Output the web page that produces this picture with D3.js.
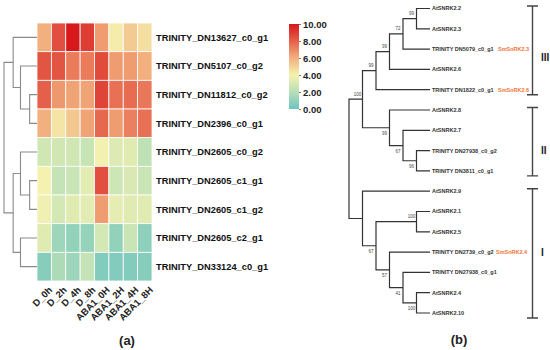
<!DOCTYPE html>
<html>
<head>
<meta charset="utf-8">
<script src="https://cdn.jsdelivr.net/npm/d3@7"></script>
<style>
  body { margin: 0; background: #fff; }
  svg { font-family: Arial, "Liberation Sans", sans-serif; }
</style>
</head>
<body>
<div id="chart"></div>
<script>
// heatmap data
const colNames = ["D_0h", "D_2h", "D_4h", "D_8h", "ABA1_0H", "ABA1_2H", "ABA1_4H", "ABA1_8H"];
const rowNames = [
  "TRINITY_DN13627_c0_g1", "TRINITY_DN5107_c0_g2", "TRINITY_DN11812_c0_g2",
  "TRINITY_DN2396_c0_g1", "TRINITY_DN2605_c0_g2", "TRINITY_DN2605_c1_g1",
  "TRINITY_DN2605_c1_g2", "TRINITY_DN2605_c2_g1", "TRINITY_DN33124_c0_g1"
];
const values = [
  [6.0, 8.5, 10.0, 9.0, 6.5, 4.2, 5.2, 4.6],
  [8.3, 8.3, 7.3, 7.3, 8.6, 6.5, 6.5, 6.0],
  [8.0, 6.6, 6.3, 6.3, 8.8, 7.6, 7.7, 7.4],
  [6.0, 4.4, 5.3, 6.3, 7.8, 6.5, 7.2, 7.6],
  [2.8, 2.8, 2.8, 2.5, 3.9, 3.2, 3.3, 2.2],
  [4.0, 2.4, 2.6, 3.4, 8.5, 2.7, 3.1, 2.6],
  [3.8, 2.9, 3.3, 3.4, 6.5, 3.5, 3.3, 3.3],
  [3.3, 1.3, 1.0, 1.1, 2.9, 1.0, 2.6, 0.9],
  [0.7, 1.7, 1.3, 2.4, 0.6, 0.6, 0.6, 0.7]
];
const legendTicks = [0, 2, 4, 6, 8, 10];
const colorStops = ["#6cc4bf", "#b8dfb7", "#f5f2b0", "#f2b07e", "#e5604a", "#d7191c"];

// row clustering (merge heights)
const rowTree = {h: 9, children: [
  {h: 6.5, children: [
    {name: rowNames[0]},
    {h: 4.5, children: [
      {name: rowNames[1]},
      {h: 2, children: [{name: rowNames[2]}, {name: rowNames[3]}]}
    ]}
  ]},
  {h: 6.5, children: [
    {h: 4.5, children: [
      {name: rowNames[4]},
      {h: 2, children: [{name: rowNames[5]}, {name: rowNames[6]}]}
    ]},
    {h: 4.5, children: [{name: rowNames[7]}, {name: rowNames[8]}]}
  ]}
]};

// phylogenetic tree data
const leafNames = [
  "AtSNRK2.2", "AtSNRK2.3", "TRINITY DN5079_c0_g1", "AtSNRK2.6", "TRINITY DN1822_c0_g1",
  "AtSNRK2.8", "AtSNRK2.7", "TRINITY DN27938_c0_g2", "TRINITY DN3811_c0_g1",
  "AtSNRK2.9", "AtSNRK2.1", "AtSNRK2.5", "TRINITY DN2739_c0_g2", "TRINITY DN27938_c0_g1",
  "AtSNRK2.4", "AtSNRK2.10"
];
const L = n => ({name: n});
const phyloTree = {children: [
  {boot: "100", pos: "above", children: [
    {boot: "99", pos: "above", children: [
      {boot: "99", pos: "above", children: [
        {boot: "72", pos: "above", children: [
          {boot: "99", pos: "above", children: [L(leafNames[0]), L(leafNames[1])]},
          L(leafNames[2])
        ]},
        L(leafNames[3])
      ]},
      L(leafNames[4])
    ]},
    {boot: "99", pos: "below", children: [
      L(leafNames[5]),
      {boot: "67", pos: "below", children: [
        L(leafNames[6]),
        {boot: "96", pos: "below", children: [L(leafNames[7]), L(leafNames[8])]}
      ]}
    ]}
  ]},
  {children: [
    L(leafNames[9]),
    {boot: "67", pos: "below", children: [
      {boot: "100", pos: "above", children: [L(leafNames[10]), L(leafNames[11])]},
      {boot: "57", pos: "below", children: [
        L(leafNames[12]),
        {boot: "41", pos: "below", children: [
          L(leafNames[13]),
          {boot: "100", pos: "below", children: [L(leafNames[14]), L(leafNames[15])]}
        ]}
      ]}
    ]}
  ]}
]};
const smNames = {"TRINITY DN5079_c0_g1": "SmSnRK2.3", "TRINITY DN1822_c0_g1": "SmSnRK2.6", "TRINITY DN2739_c0_g2": "SmSnRK2.4"};
const groups = [
  {label: "III", from: "AtSNRK2.2", to: "TRINITY DN1822_c0_g1", labelAt: 2.4},
  {label: "II", from: "AtSNRK2.8", to: "TRINITY DN3811_c0_g1", labelAt: 7.0},
  {label: "I", from: "AtSNRK2.9", to: "AtSNRK2.10", labelAt: 12.0}
];

const svg = d3.select("#chart").append("svg")
  .attr("width", 550)
  .attr("height", 350);

// ---------- (a) heatmap ----------
const x = d3.scaleBand().domain(colNames).range([37, 152]);
const y = d3.scaleBand().domain(rowNames).range([23, 281]);
const color = d3.scaleLinear().domain(legendTicks).range(colorStops);

const cells = [];
values.forEach((row, i) => row.forEach((v, j) => cells.push({r: rowNames[i], c: colNames[j], v: v})));

svg.append("g").selectAll("rect")
  .data(cells)
  .enter()
  .append("rect")
  .attr("x", d => x(d.c))
  .attr("y", d => y(d.r))
  .attr("width", x.bandwidth())
  .attr("height", y.bandwidth())
  .attr("fill", d => color(d.v))
  .attr("stroke", "#fff")
  .attr("stroke-width", 0.8);

svg.append("g").selectAll("text")
  .data(rowNames)
  .enter()
  .append("text")
  .attr("x", 156)
  .attr("y", d => y(d) + y.bandwidth() / 2)
  .attr("dy", "0.35em")
  .attr("font-size", "9.3px")
  .attr("font-weight", "bold")
  .attr("fill", "#111")
  .text(d => d);

svg.append("g").selectAll("text")
  .data(colNames)
  .enter()
  .append("text")
  .attr("transform", d => `translate(${x(d) + x.bandwidth() / 2 + 4}, 286) rotate(-45)`)
  .attr("text-anchor", "end")
  .attr("dy", "0.7em")
  .attr("font-size", "9.5px")
  .attr("font-weight", "bold")
  .attr("fill", "#222")
  .text(d => d);

// row dendrogram
const rowRoot = d3.hierarchy(rowTree);
const dx = d3.scaleLinear().domain([0, 9]).range([37, 4]);
rowRoot.eachAfter(n => {
  if (n.children) {
    n.py = d3.mean(n.children, c => c.py);
    n.px = dx(n.data.h);
  } else {
    n.py = y(n.data.name) + y.bandwidth() / 2;
    n.px = dx(0);
  }
});
const dendro = svg.append("g")
  .attr("fill", "none")
  .attr("stroke", "#8a8a8a")
  .attr("stroke-width", 1.1);
rowRoot.descendants().filter(n => n.children).forEach(n => {
  const ys = n.children.map(c => c.py);
  dendro.append("path")
    .attr("d", `M${n.children[0].px},${ys[0]}H${n.px}V${ys[1]}H${n.children[1].px}`);
});

// colour legend
const defs = svg.append("defs");
const grad = defs.append("linearGradient")
  .attr("id", "grad")
  .attr("x1", 0).attr("y1", 1).attr("x2", 0).attr("y2", 0);
legendTicks.forEach((t, i) => {
  grad.append("stop")
    .attr("offset", t / 10)
    .attr("stop-color", colorStops[i]);
});
const legendY = d3.scaleLinear().domain([0, 10]).range([109, 24]);
svg.append("rect")
  .attr("x", 289)
  .attr("y", legendY(10))
  .attr("width", 10)
  .attr("height", legendY(0) - legendY(10))
  .attr("fill", "url(#grad)");
const legendAxis = svg.append("g")
  .attr("transform", "translate(299,0)")
  .call(d3.axisRight(legendY).tickValues(legendTicks).tickFormat(d3.format(".2f")).tickSize(2).tickPadding(2));
legendAxis.select(".domain").remove();
legendAxis.selectAll("line").attr("stroke", "#777");
legendAxis.selectAll("text")
  .attr("font-size", "9.5px")
  .attr("font-weight", "bold")
  .attr("fill", "#222")
  .attr("font-family", "Arial, 'Liberation Sans', sans-serif");

svg.append("text")
  .attr("x", 127)
  .attr("y", 345)
  .attr("text-anchor", "middle")
  .attr("font-size", "13px")
  .attr("font-weight", "bold")
  .attr("fill", "#222")
  .text("(a)");

// ---------- (b) phylogenetic tree ----------
const ly = d3.scalePoint().domain(leafNames).range([8.5, 313]);
const lyIdx = d3.scaleLinear().domain([0, leafNames.length - 1]).range([8.5, 313]);
const phRoot = d3.hierarchy(phyloTree);
const hx = d3.scaleLinear().domain([0, phRoot.height]).range([430, 349]);
phRoot.eachAfter(n => {
  n.px = hx(n.height);
  n.py = n.children ? d3.mean(n.children, c => c.py) : ly(n.data.name);
});

const tree = svg.append("g")
  .attr("fill", "none")
  .attr("stroke", "#333")
  .attr("stroke-width", 1.2);
phRoot.descendants().filter(n => n.children).forEach(n => {
  const ys = n.children.map(c => c.py);
  tree.append("path")
    .attr("d", `M${n.children[0].px},${ys[0]}H${n.px}V${ys[1]}H${n.children[1].px}`);
});

// bootstrap values
svg.append("g").selectAll("text")
  .data(phRoot.descendants().filter(n => n.data.boot))
  .enter()
  .append("text")
  .attr("x", d => d.px - 5)
  .attr("y", d => d.data.pos === "above" ? d.py - 3.5 : d.py + 7.5)
  .attr("text-anchor", "middle")
  .attr("font-size", "4.5px")
  .attr("fill", "#444")
  .text(d => d.data.boot);

// leaf labels
svg.append("g").selectAll("text")
  .data(leafNames)
  .enter()
  .append("text")
  .attr("x", 432)
  .attr("y", d => ly(d))
  .attr("dy", "0.35em")
  .attr("font-size", "5.5px")
  .attr("font-weight", "bold")
  .attr("fill", "#333")
  .text(d => d);

svg.append("g").selectAll("text")
  .data(Object.keys(smNames))
  .enter()
  .append("text")
  .attr("x", d => d === "TRINITY DN2739_c0_g2" ? 496 : 498)
  .attr("y", d => ly(d))
  .attr("dy", "0.35em")
  .attr("font-size", "5.5px")
  .attr("font-weight", "bold")
  .attr("fill", "#f0743a")
  .text(d => smNames[d]);

// clade brackets
const br = svg.append("g")
  .attr("stroke", "#444")
  .attr("stroke-width", 1.4)
  .attr("fill", "none");
groups.forEach(g => {
  const y0 = ly(g.from) - 2.5, y1 = ly(g.to) + 5;
  br.append("path")
    .attr("d", `M527,${y0}H538M532.5,${y0}V${y1}M527,${y1}H538`);
  svg.append("text")
    .attr("x", 541)
    .attr("y", lyIdx(g.labelAt))
    .attr("dy", "0.35em")
    .attr("font-size", "10px")
    .attr("font-weight", "bold")
    .attr("fill", "#222")
    .text(g.label);
});

svg.append("text")
  .attr("x", 459)
  .attr("y", 344)
  .attr("text-anchor", "middle")
  .attr("font-size", "13px")
  .attr("font-weight", "bold")
  .attr("fill", "#222")
  .text("(b)");
</script>
</body>
</html>
